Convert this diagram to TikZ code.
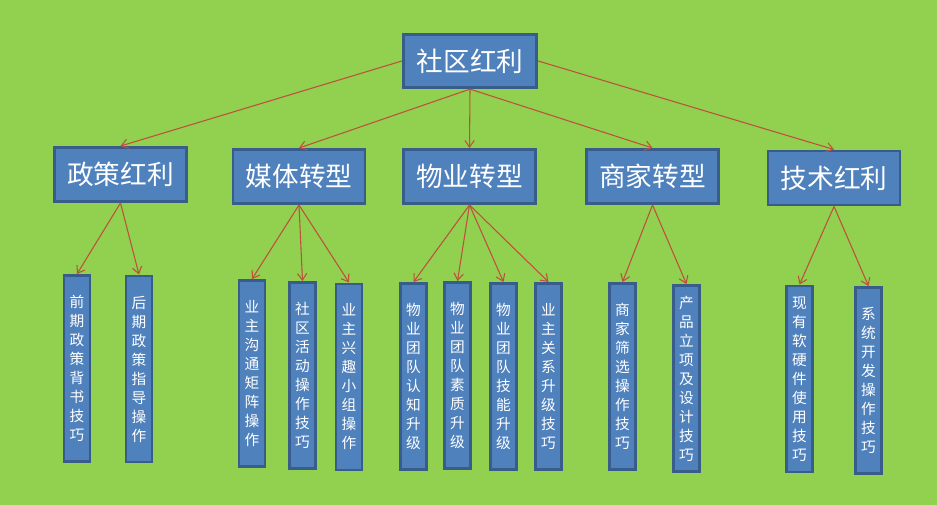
\documentclass[tikz,border=0pt]{standalone}
\usepackage{fontspec}
\newfontfamily\cjk{Noto Sans CJK SC}
\usetikzlibrary{arrows.meta}
\definecolor{bggreen}{RGB}{146,208,80}
\definecolor{boxblue}{RGB}{79,129,189}
\definecolor{boxedge}{RGB}{56,93,138}
\definecolor{linkred}{RGB}{190,80,60}
\tikzset{
  box/.style={rectangle,fill=boxblue,draw=boxedge,line width=2.2pt,text=white,inner sep=0pt},
  topbox/.style={box,minimum width=100pt,minimum height=40pt,font=\cjk\fontsize{20}{24}\selectfont},
  midbox/.style={box,minimum width=99pt,minimum height=40.5pt,font=\cjk\fontsize{20}{24}\selectfont},
  leafbox/.style={box,minimum width=19.5pt,minimum height=139.5pt,align=center,font=\cjk\fontsize{11}{14.25}\selectfont},
  link/.style={draw=linkred,line width=0.8pt,-{Straight Barb[length=5pt,width=7pt]}}
}
\begin{document}
\begin{tikzpicture}[x=0.75pt,y=-0.75pt]
  \fill[bggreen] (0,0) rectangle (937,505);
  \useasboundingbox (0,0) rectangle (937,505);
  % top
  \node[topbox] (hl) at (470,61) {社区红利};
  % second row
  \node[midbox] (zc) at (120.5,174.5) {政策红利};
  \node[midbox] (mt) at (299,176.5) {媒体转型};
  \node[midbox] (wy) at (469.5,176.5) {物业转型};
  \node[midbox] (sj) at (652.5,176.5) {商家转型};
  \node[midbox] (js) at (834,178) {技术红利};
  % leaves
  \node[leafbox] (zc1) at (77,368.5) {前\\期\\政\\策\\背\\书\\技\\巧};
  \node[leafbox] (zc2) at (139,369) {后\\期\\政\\策\\指\\导\\操\\作};
  \node[leafbox] (mt1) at (252,373.5) {业\\主\\沟\\通\\矩\\阵\\操\\作};
  \node[leafbox] (mt2) at (302.5,375.5) {社\\区\\活\\动\\操\\作\\技\\巧};
  \node[leafbox] (mt3) at (349,377) {业\\主\\兴\\趣\\小\\组\\操\\作};
  \node[leafbox] (wy1) at (413.5,376.5) {物\\业\\团\\队\\认\\知\\升\\级};
  \node[leafbox] (wy2) at (457.5,375.5) {物\\业\\团\\队\\素\\质\\升\\级};
  \node[leafbox] (wy3) at (503.5,376.5) {物\\业\\团\\队\\技\\能\\升\\级};
  \node[leafbox] (wy4) at (548.5,376.5) {业\\主\\关\\系\\升\\级\\技\\巧};
  \node[leafbox] (sj1) at (622.5,376.5) {商\\家\\筛\\选\\操\\作\\技\\巧};
  \node[leafbox] (sj2) at (686.5,378.5) {产\\品\\立\\项\\及\\设\\计\\技\\巧};
  \node[leafbox] (js1) at (799.5,379) {现\\有\\软\\硬\\件\\使\\用\\技\\巧};
  \node[leafbox] (js2) at (868.5,380.5) {系\\统\\开\\发\\操\\作\\技\\巧};
  % links from the top
  \draw[link] (hl.west) -- (zc.north);
  \draw[link] (hl.south) -- (mt.north);
  \draw[link] (hl.south) -- (wy.north);
  \draw[link] (hl.south) -- (sj.north);
  \draw[link] (hl.east) -- (js.north);
  % links to the leaves
  \foreach \p/\c in {zc/zc1,zc/zc2,mt/mt1,mt/mt2,mt/mt3,wy/wy1,wy/wy2,wy/wy3,wy/wy4,sj/sj1,sj/sj2,js/js1,js/js2}
    \draw[link] (\p.south) -- (\c.north);
\end{tikzpicture}
\end{document}
